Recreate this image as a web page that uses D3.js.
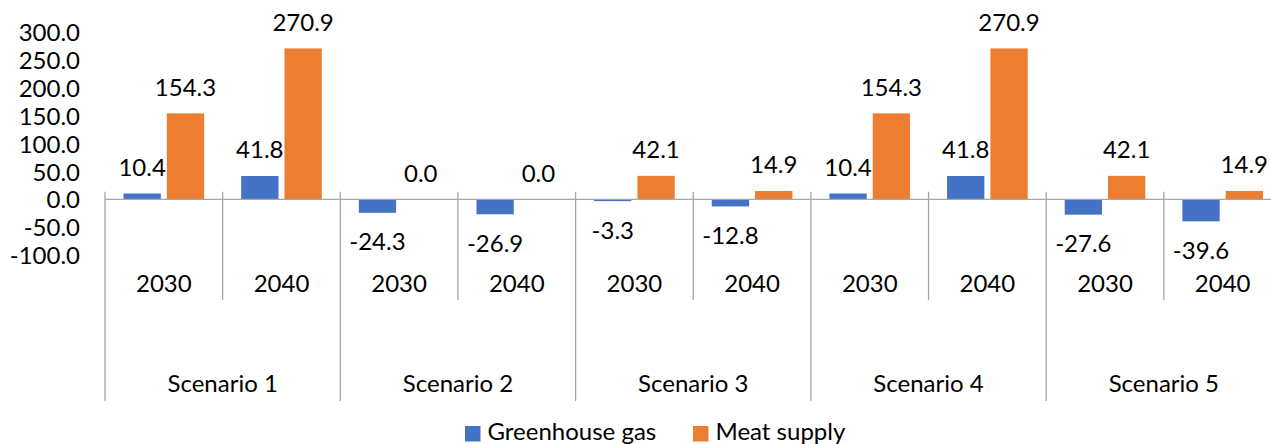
<!DOCTYPE html>
<html>
<head>
<meta charset="utf-8">
<script src="https://cdn.jsdelivr.net/npm/d3@7"></script>
<style>
  html, body { margin: 0; padding: 0; background: #fff; }
  svg { display: block; font-family: Lato, "Open Sans", sans-serif; }
</style>
</head>
<body>
<svg id="chart" width="1271" height="444"></svg>
<script>
// Scenario groups, years within each scenario, and the two series
const scenarios = ["Scenario 1", "Scenario 2", "Scenario 3", "Scenario 4", "Scenario 5"];
const years = ["2030", "2040"];
const seriesNames = ["Greenhouse gas", "Meat supply"];
const greenhouseGas = [10.4, 41.8, -24.3, -26.9, -3.3, -12.8, 10.4, 41.8, -27.6, -39.6];
const meatSupply = [154.3, 270.9, 0.0, 0.0, 42.1, 14.9, 154.3, 270.9, 42.1, 14.9];
const yTicks = [-100, -50, 0, 50, 100, 150, 200, 250, 300];
const colors = ["#4472C4", "#ED7D31"];

const svg = d3.select("#chart");
const fontSize = 24;
// One decimal, plain hyphen for negatives
const fmt = v => d3.format(".1f")(v).replace("\u2212", "-");

// Scales
const y = d3.scaleLinear().domain([-100, 300]).range([255.0, 32.2]);
const xScen = d3.scaleBand().domain(scenarios).range([105, 1281.5]).padding(0);
const xYear = d3.scaleBand().domain(years).range([0, xScen.bandwidth()]).padding(0);
const xSer = d3.scaleBand().domain(seriesNames).range([0, xYear.bandwidth()])
  .paddingInner(0.1386).paddingOuter(0.4275);

const rows = [];
scenarios.forEach((s, i) => {
  years.forEach((yr, j) => {
    const idx = i * years.length + j;
    rows.push({ scenario: s, year: yr, values: [greenhouseGas[idx], meatSupply[idx]] });
  });
});

// Y axis labels (no axis line)
const yAxis = d3.axisLeft(y).tickValues(yTicks).tickFormat(fmt).tickSize(0).tickPadding(0);
const yg = svg.append("g").attr("transform", "translate(80,0)").call(yAxis);
yg.select(".domain").remove();
yg.selectAll("text").attr("font-size", fontSize).attr("font-family", "Lato, sans-serif")
  .attr("fill", "#000").attr("dy", "0.36em");

// Bars
const groups = svg.append("g").selectAll("g.cell").data(rows).join("g")
  .attr("class", "cell")
  .attr("transform", d => `translate(${xScen(d.scenario) + xYear(d.year)},0)`);

groups.selectAll("rect").data(d => d.values.map((v, k) => ({ v, k }))).join("rect")
  .attr("x", d => xSer(seriesNames[d.k]))
  .attr("width", xSer.bandwidth())
  .attr("y", d => y(Math.max(0, d.v)))
  .attr("height", d => Math.abs(y(d.v) - y(0)))
  .attr("fill", d => colors[d.k]);

// Value labels
groups.selectAll("text.val").data(d => d.values.map((v, k) => ({ v, k }))).join("text")
  .attr("class", "val")
  .attr("x", d => xSer(seriesNames[d.k]) + xSer.bandwidth() / 2)
  .attr("y", d => d.v >= 0 ? y(d.v) - 17.7 : y(d.v) + 37.6)
  .attr("text-anchor", "middle")
  .attr("font-size", fontSize)
  .attr("fill", "#000")
  .text(d => fmt(d.v));

// Category axis line at zero
const axisColor = "#A6A6A6";
svg.append("line")
  .attr("x1", 105).attr("x2", 1281.5)
  .attr("y1", y(0)).attr("y2", y(0))
  .attr("stroke", axisColor).attr("stroke-width", 1.3);

// Year separators and scenario separators
const sepTop = 191.7;
scenarios.forEach(s => {
  const x0 = xScen(s);
  svg.append("line").attr("x1", x0).attr("x2", x0).attr("y1", sepTop).attr("y2", 401)
    .attr("stroke", axisColor).attr("stroke-width", 1.3);
  const xm = x0 + xYear(years[1]);
  svg.append("line").attr("x1", xm).attr("x2", xm).attr("y1", sepTop).attr("y2", 300)
    .attr("stroke", axisColor).attr("stroke-width", 1.3);
});

// Year labels
svg.append("g").selectAll("text").data(rows).join("text")
  .attr("x", d => xScen(d.scenario) + xYear(d.year) + xYear.bandwidth() / 2)
  .attr("y", 291.6)
  .attr("text-anchor", "middle")
  .attr("font-size", fontSize)
  .attr("fill", "#000")
  .text(d => d.year);

// Scenario labels
svg.append("g").selectAll("text").data(scenarios).join("text")
  .attr("x", d => xScen(d) + xScen.bandwidth() / 2)
  .attr("y", 391.6)
  .attr("text-anchor", "middle")
  .attr("font-size", fontSize)
  .attr("fill", "#000")
  .text(d => d);

// Legend
const legendX = [465, 693];
const legend = svg.append("g").selectAll("g").data(seriesNames).join("g")
  .attr("transform", (d, i) => `translate(${legendX[i]},0)`);
legend.append("rect").attr("x", 0).attr("y", 426).attr("width", 15.5).attr("height", 15.5)
  .attr("fill", (d, i) => colors[i]);
legend.append("text").attr("x", 22.5).attr("y", 440)
  .attr("font-size", fontSize).attr("fill", "#000").text(d => d);
</script>
</body>
</html>
